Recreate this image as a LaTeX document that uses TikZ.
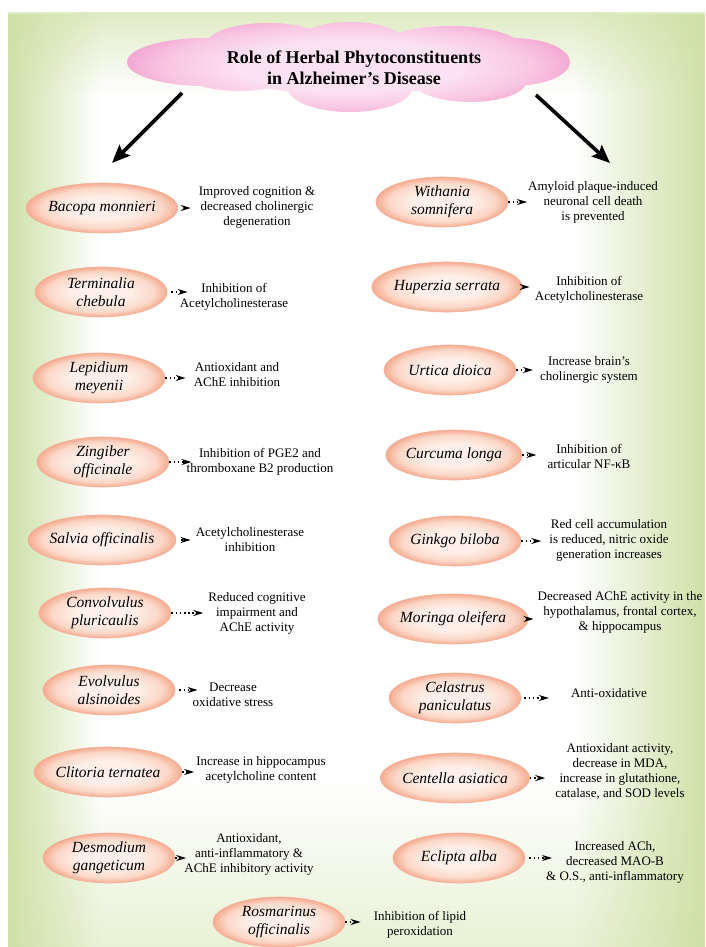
\documentclass[tikz,border=0pt]{standalone}
\usepackage{fontspec}
\setmainfont{Liberation Serif}
\usetikzlibrary{shapes.geometric,arrows.meta,fadings}
\definecolor{bgGreen}{RGB}{206,225,166}
\definecolor{bgLight}{RGB}{224,236,196}
\definecolor{spIn}{RGB}{254,240,233}
\definecolor{spMid}{RGB}{251,216,200}
\definecolor{spOut}{RGB}{245,172,145}
\definecolor{spEdge}{RGB}{244,178,155}
\definecolor{cloudIn}{RGB}{252,226,240}
\definecolor{cloudMid}{RGB}{248,198,226}
\definecolor{cloudOut}{RGB}{243,166,210}
\pgfdeclareradialshading{spshade}{\pgfpoint{0bp}{0bp}}{color(0bp)=(spIn); color(11bp)=(spIn); color(20bp)=(spMid); color(25bp)=(spOut); color(50bp)=(spOut)}
\pgfdeclareradialshading{cloudshade}{\pgfpoint{0bp}{0bp}}{color(0bp)=(cloudIn); color(12bp)=(cloudIn); color(20bp)=(cloudMid); color(25bp)=(cloudOut); color(50bp)=(cloudOut)}
\tikzset{
  sp/.style={ellipse, minimum width=132pt, minimum height=50pt, inner sep=0pt, shade, shading=spshade, draw=spEdge, line width=0.6pt, align=center, font=\itshape\fontsize{15.5}{18}\selectfont},
  ds/.style={align=center, inner sep=0pt, font=\fontsize{13}{15}\selectfont},
  con/.style={line width=1.4pt, dash pattern=on 1.6pt off 2.6pt, -{Stealth[length=10pt,width=6pt]}},
  bigarrow/.style={line width=3.6pt, -{Stealth[length=18pt,width=15pt,inset=3pt]}}
}
\begin{document}
\begin{tikzpicture}[x=1pt,y=-1pt]
\useasboundingbox (0,0) rectangle (705,947);
% background
\fill[white] (8,12) rectangle (705,947);
\fill[bgLight, path fading=south] (8,12) rectangle (705,95);
\fill[bgLight, fill opacity=0.7, path fading=north] (8,780) rectangle (705,947);
\fill[bgGreen, path fading=east] (8,12) rectangle (100,947);
\fill[bgGreen, path fading=west] (575,12) rectangle (705,947);
% cloud
\begin{scope}
\clip (205,62) ellipse [x radius=78pt, y radius=24pt]
      (268,45) ellipse [x radius=62pt, y radius=22pt]
      (350,40) ellipse [x radius=52pt, y radius=18pt]
      (450,48) ellipse [x radius=72pt, y radius=22pt]
      (512,62) ellipse [x radius=58pt, y radius=24pt]
      (350,88) ellipse [x radius=62pt, y radius=24pt]
      (470,82) ellipse [x radius=56pt, y radius=20pt]
      (240,76) ellipse [x radius=52pt, y radius=15pt]
      (350,65) ellipse [x radius=130pt, y radius=30pt];
\shade[shading=cloudshade] (122,14) rectangle (578,118);
\end{scope}
\node[align=center, inner sep=0pt, font=\bfseries\fontsize{18}{21.5}\selectfont] (title) at (354,68) {Role of Herbal Phytoconstituents\\in Alzheimer's Disease};
\coordinate (ls) at (182,93);
\coordinate (lt) at (112,163);
\coordinate (rs) at (536,95);
\coordinate (rt) at (610,163);
\draw[bigarrow] (ls) -- (lt);
\draw[bigarrow] (rs) -- (rt);
% left column
\node[sp] (bacopa) at (102,208) {Bacopa monnieri};
\node[sp] (terminalia) at (101,292) {Terminalia\\chebula};
\node[sp] (lepidium) at (99,378) {Lepidium\\meyenii};
\node[sp] (zingiber) at (103,462) {Zingiber\\officinale};
\node[sp] (salvia) at (102,540) {Salvia officinalis};
\node[sp] (convolvulus) at (105,613) {Convolvulus\\pluricaulis};
\node[sp] (evolvulus) at (109,690) {Evolvulus\\alsinoides};
\node[sp] (clitoria) at (108,772) {Clitoria ternatea};
\node[sp] (desmodium) at (109,858) {Desmodium\\gangeticum};
\node[sp] (rosmarinus) at (279,922) {Rosmarinus\\officinalis};
% right column
\node[sp] (withania) at (442,202) {Withania\\somnifera};
\node[sp] (huperzia) at (447,287) {Huperzia serrata};
\node[sp] (urtica) at (450,370) {Urtica dioica};
\node[sp] (curcuma) at (454,455) {Curcuma longa};
\node[sp] (ginkgo) at (455,541) {Ginkgo biloba};
\node[sp] (moringa) at (453,619) {Moringa oleifera};
\node[sp] (celastrus) at (455,698) {Celastrus\\paniculatus};
\node[sp] (centella) at (455,778) {Centella asiatica};
\node[sp] (eclipta) at (459,858) {Eclipta alba};
% descriptions
\node[ds] (bacopaD) at (257,207) {Improved cognition \&\\decreased cholinergic\\degeneration};
\node[ds] (terminaliaD) at (234,297) {Inhibition of\\Acetylcholinesterase};
\node[ds] (lepidiumD) at (237,375) {Antioxidant and\\AChE inhibition};
\node[ds] (zingiberD) at (260,462) {Inhibition of PGE2 and\\thromboxane B2 production};
\node[ds] (salviaD) at (250,540) {Acetylcholinesterase\\inhibition};
\node[ds] (convolvulusD) at (257,613) {Reduced cognitive\\impairment and\\AChE activity};
\node[ds] (evolvulusD) at (233,695) {Decrease\\oxidative stress};
\node[ds] (clitoriaD) at (261,770) {Increase in hippocampus\\acetylcholine content};
\node[ds] (desmodiumD) at (249,854) {Antioxidant,\\anti-inflammatory \&\\AChE inhibitory activity};
\node[ds] (rosmarinusD) at (420,925) {Inhibition of lipid\\peroxidation};
\node[ds] (withaniaD) at (593,202) {Amyloid plaque-induced\\neuronal cell death\\is prevented};
\node[ds] (huperziaD) at (589,290) {Inhibition of\\Acetylcholinesterase};
\node[ds] (urticaD) at (589,370) {Increase brain's\\cholinergic system};
\node[ds] (curcumaD) at (589,456) {Inhibition of\\articular NF-κB};
\node[ds] (ginkgoD) at (609,540) {Red cell accumulation\\is reduced, nitric oxide\\generation increases};
\node[ds] (moringaD) at (620,612) {Decreased AChE activity in the\\hypothalamus, frontal cortex,\\\& hippocampus};
\node[ds] (celastrusD) at (609,693) {Anti-oxidative};
\node[ds] (centellaD) at (620,771) {Antioxidant activity,\\decrease in MDA,\\increase in glutathione,\\catalase, and SOD levels};
\node[ds] (ecliptaD) at (615,862) {Increased ACh,\\decreased MAO-B\\\& O.S., anti-inflammatory};
% connectors
\draw[con, shorten <=6pt, shorten >=8pt] (bacopa.east) -- (bacopa.east -| bacopaD.west);
\draw[con, shorten <=4pt, shorten >=-8pt] (terminalia.east) -- (terminalia.east -| terminaliaD.west);
\draw[con, shorten <=0pt, shorten >=8pt] (lepidium.east) -- (lepidium.east -| lepidiumD.west);
\draw[con, shorten <=0pt, shorten >=-5pt] (zingiber.east) -- (zingiber.east -| zingiberD.west);
\draw[con, shorten <=5pt, shorten >=5pt] (salvia.east) -- (salvia.east -| salviaD.west);
\draw[con, shorten <=0pt, shorten >=5pt] (convolvulus.east) -- (convolvulus.east -| convolvulusD.west);
\draw[con, shorten <=4pt, shorten >=-5pt] (evolvulus.east) -- (evolvulus.east -| evolvulusD.west);
\draw[con, shorten <=0pt, shorten >=2pt] (clitoria.east) -- (clitoria.east -| clitoriaD.west);
\draw[con, shorten <=0pt, shorten >=-2pt] (desmodium.east) -- (desmodium.east -| desmodiumD.west);
\draw[con, shorten <=0pt, shorten >=13pt] (rosmarinus.east) -- (rosmarinus.east -| rosmarinusD.west);
\draw[con, shorten <=0pt, shorten >=1pt] (withania.east) -- (withania.east -| withaniaD.west);
\draw[con, shorten <=0pt, shorten >=5pt] (huperzia.east) -- (huperzia.east -| huperziaD.west);
\draw[con, shorten <=0pt, shorten >=7pt] (urtica.east) -- (urtica.east -| urticaD.west);
\draw[con, shorten <=0pt, shorten >=11pt] (curcuma.east) -- (curcuma.east -| curcumaD.west);
\draw[con, shorten <=0pt, shorten >=8pt] (ginkgo.east) -- (ginkgo.east -| ginkgoD.west);
\draw[con, shorten <=0pt, shorten >=4pt] (moringa.east) -- (moringa.east -| moringaD.west);
\draw[con, shorten <=3pt, shorten >=22pt] (celastrus.east) -- (celastrus.east -| celastrusD.west);
\draw[con, shorten <=0pt, shorten >=10pt] (centella.east) -- (centella.east -| centellaD.west);
\draw[con, shorten <=4pt, shorten >=-6pt] (eclipta.east) -- (eclipta.east -| ecliptaD.west);
\end{tikzpicture}
\end{document}
